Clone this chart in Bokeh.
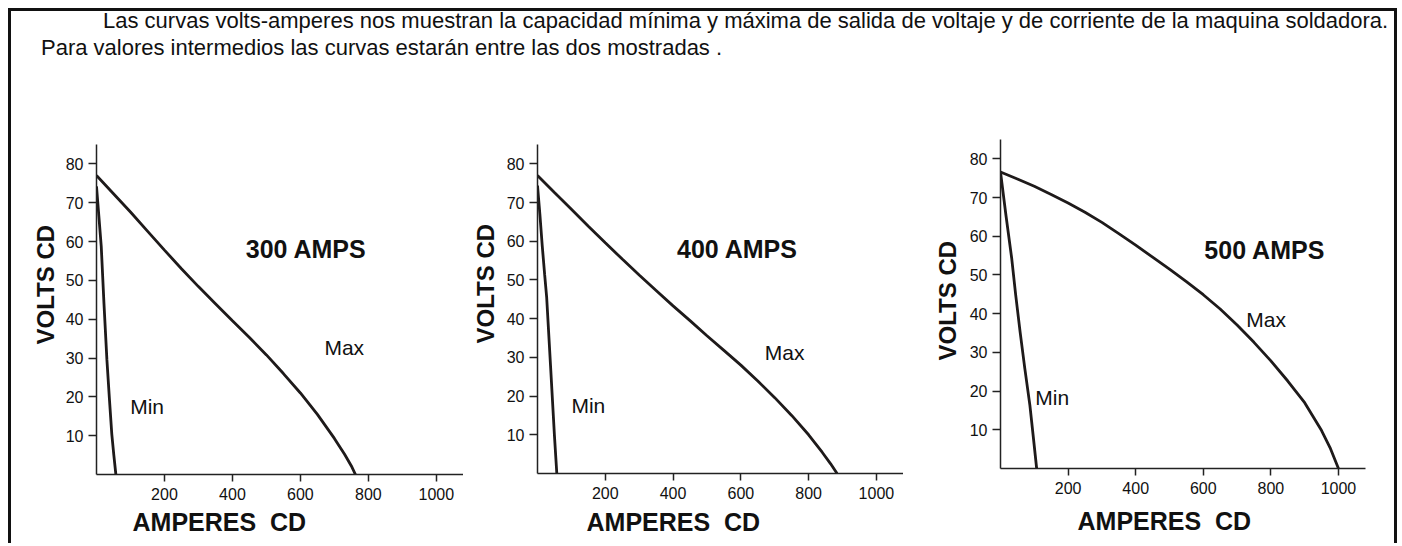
from bokeh.plotting import figure
from bokeh.models import Div, Label, FixedTicker, Range1d, Title
from bokeh.layouts import row, column
from bokeh.embed import file_html
from bokeh.resources import INLINE

# ---------------- data ----------------
x_ticks = [200, 400, 600, 800, 1000]
y_ticks = [10, 20, 30, 40, 50, 60, 70, 80]

amps_labels = ["300 AMPS", "400 AMPS", "500 AMPS"]

# 300 AMPS
max300_x = [0, 50, 100, 150, 200, 250, 300, 350, 400, 450, 500, 550, 600, 650, 700, 730, 750, 762]
max300_y = [77.0, 72.3, 67.6, 62.7, 57.8, 53.0, 48.4, 44.0, 39.6, 35.3, 30.8, 26.0, 21.0, 15.5, 9.3, 5.2, 2.2, 0.0]
min300_x = [0, 7, 14, 22, 30.5, 38, 45, 51, 57]
min300_y = [74.2, 66.5, 58.7, 44.0, 29.7, 19.5, 10.4, 5.0, 0.0]

# 400 AMPS
max400_x = [0, 50, 100, 150, 200, 250, 300, 350, 400, 450, 500, 550, 600, 650, 700, 750, 800, 840, 865, 884]
max400_y = [77.0, 72.6, 68.3, 63.9, 59.6, 55.4, 51.3, 47.3, 43.3, 39.5, 35.6, 31.8, 28.0, 23.9, 19.6, 15.0, 10.0, 5.5, 2.5, 0.0]
min400_x = [0, 7, 14, 21, 27, 38.5, 50, 57]
min400_y = [74.4, 67.0, 58.8, 51.5, 45.6, 27.8, 9.8, 0.0]

# 500 AMPS
max500_x = [0, 50, 100, 150, 200, 250, 300, 350, 400, 450, 500, 550, 600, 650, 700, 750, 800, 850, 900, 950, 975, 1000]
max500_y = [76.6, 74.8, 72.9, 70.8, 68.6, 66.2, 63.6, 60.7, 57.7, 54.6, 51.5, 48.3, 44.9, 41.2, 37.1, 32.6, 27.8, 22.6, 17.0, 9.8, 5.4, 0.0]
min500_x = [0, 16, 33, 45, 58, 72, 87, 97, 107]
min500_y = [76.6, 65.5, 54.4, 44.8, 35.3, 25.8, 16.3, 8.2, 0.0]

FONT = "Liberation Sans"
INK = "#1e1a1a"
TXT = "#111111"


def make_chart(mx, my, nx, ny, title, title_pos, max_pos, min_pos,
               xt_offset, xt_standoff, yt_offset, yt_standoff,
               fw, fh, bl, br, bt, bb):
    p = figure(frame_width=fw, frame_height=fh,
               x_range=Range1d(0, 1080), y_range=Range1d(0, 85),
               output_backend="svg", toolbar_location=None,
               min_border_left=bl, min_border_right=br,
               min_border_top=bt, min_border_bottom=bb,
               background_fill_color="white", border_fill_color="white")
    p.outline_line_color = None
    p.grid.visible = False
    for ax, ticks in ((p.xaxis, x_ticks), (p.yaxis, y_ticks)):
        ax.ticker = FixedTicker(ticks=ticks)
        ax.axis_line_width = 1.5
        ax.axis_line_color = "#222222"
        ax.major_tick_line_color = "#222222"
        ax.major_tick_line_width = 1.5
        ax.major_tick_in = 0
        ax.minor_tick_line_color = None
        ax.major_label_text_font = FONT
        ax.major_label_text_font_size = "16px"
        ax.major_label_text_color = TXT
    p.xaxis.major_tick_out = 7
    p.xaxis.major_label_standoff = 6
    p.yaxis.major_tick_out = 8
    p.yaxis.major_label_standoff = 5

    p.line(mx, my, line_color=INK, line_width=2.8)
    p.line(nx, ny, line_color=INK, line_width=2.8)

    p.add_layout(Label(x=title_pos[0], y=title_pos[1], text=title,
                       text_font=FONT, text_font_style="bold", text_font_size="25px",
                       text_align="center", text_baseline="middle", text_color=TXT))
    p.add_layout(Label(x=max_pos[0], y=max_pos[1], text="Max",
                       text_font=FONT, text_font_size="21px",
                       text_align="center", text_baseline="middle", text_color=TXT))
    p.add_layout(Label(x=min_pos[0], y=min_pos[1], text="Min",
                       text_font=FONT, text_font_size="21px",
                       text_align="center", text_baseline="middle", text_color=TXT))
    p.add_layout(Title(text="AMPERES\u00a0\u00a0CD", align="left", offset=xt_offset,
                       standoff=xt_standoff,
                       text_font=FONT, text_font_style="bold", text_font_size="25px",
                       text_color=TXT), "below")
    p.add_layout(Title(text="VOLTS CD", align="left", offset=yt_offset, standoff=yt_standoff,
                       text_font=FONT, text_font_style="bold", text_font_size="24px",
                       text_color=TXT), "left")
    return p


p1 = make_chart(max300_x, max300_y, min300_x, min300_y, amps_labels[0],
                (617, 58.2), (729, 32.8), (149, 17.6), 36, 7, 130, 8,
                367, 330, 85, 0, 78, 67)
p2 = make_chart(max400_x, max400_y, min400_x, min400_y, amps_labels[1],
                (590, 58.1), (729, 31.3), (150, 17.6), 49, 8, 130, 10,
                366, 329, 74, 0, 79, 67)
p3 = make_chart(max500_x, max500_y, min500_x, min500_y, amps_labels[2],
                (782, 56.4), (786, 38.5), (153, 18.4), 77, 17, 108, 11,
                365, 329, 97, 29, 74, 72)

text_html = (
    '<div style="font-family:\'Liberation Sans\',Arial,sans-serif;font-size:22px;'
    'line-height:27px;color:#111;margin-top:-9px;">'
    '<div style="text-align:left;text-indent:62px;white-space:nowrap;'
    'padding-left:25px;width:1360px;">'
    'Las curvas volts-amperes nos muestran la capacidad mínima y máxima de salida de '
    'voltaje y de corriente de la maquina soldadora.</div>'
    '<div style="padding-left:25px;white-space:nowrap;">Para valores intermedios las curvas '
    'estarán entre las dos mostradas .</div></div>'
)
div = Div(text=text_html, width=1383, height=44)

layout = column(div, row(p1, p2, column(p3)),
                styles={"margin-left": "8px", "margin-top": "8px", "width": "1389px",
                        "box-sizing": "border-box",
                        "border-top": "3px solid #111", "border-left": "3px solid #111",
                        "border-right": "3px solid #111"})

open("out.html", "w").write(file_html(layout, INLINE, "Curvas volts-amperes"))
